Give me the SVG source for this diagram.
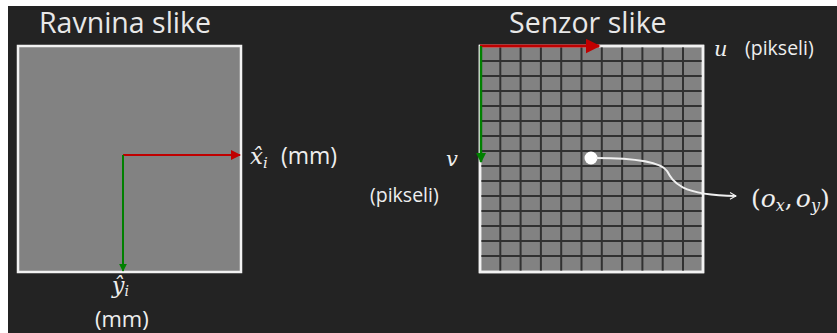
<svg xmlns="http://www.w3.org/2000/svg" width="837" height="333" viewBox="0 0 837 333">
<defs>
<style>
.title{font-family:"Open Sans","Noto Sans",sans-serif;font-size:28.5px;fill:#e8e8e8}
.lbl{font-family:"Open Sans","Noto Sans",sans-serif;fill:#eeeeee}
.math{font-family:"DejaVu Serif","Liberation Serif",serif;font-style:italic;fill:#eeeeee}
.panel{fill:#828282;stroke:#f2f2f2;stroke-width:2.5}
.grid{stroke:#1e1e1e;stroke-width:2;opacity:0.8}
</style>
<marker id="ar" viewBox="0 0 10 10" refX="9" refY="5" markerWidth="5" markerHeight="5" orient="auto"><path d="M0,0 L10,5 L0,10 z" fill="#c00000"/></marker>
<marker id="ag" viewBox="0 0 10 10" refX="9" refY="5" markerWidth="4" markerHeight="4" orient="auto"><path d="M0,0 L10,5 L0,10 z" fill="#008000"/></marker>
<marker id="aw" viewBox="0 0 12 12" refX="10" refY="6" markerWidth="8" markerHeight="8" orient="auto" markerUnits="userSpaceOnUse"><path d="M1,1 L10,6 L1,11" fill="none" stroke="#f0f0f0" stroke-width="1.6"/></marker>
</defs>
<rect width="837" height="333" fill="#ffffff"/>
<rect x="8" y="6" width="829" height="327" fill="#232323"/>

<g id="ravnina">
<text class="title" x="39" y="33">Ravnina slike</text>
<rect class="panel" x="18" y="46" width="223" height="226"/>
</g>

<g id="senzor">
<text class="title" x="509" y="33">Senzor slike</text>
<rect class="panel" x="480" y="46" width="223" height="226"/>
<g class="grid">
<path d="M500.3,47V271M520.6,47V271M540.9,47V271M561.2,47V271M581.5,47V271M601.8,47V271M622.1,47V271M642.4,47V271M662.7,47V271M683,47V271"/>
<path d="M481,61H702M481,76H702M481,91H702M481,106H702M481,121H702M481,136H702M481,151H702M481,166H702M481,181H702M481,196H702M481,211H702M481,226H702M481,241H702M481,256H702"/>
</g>
<rect x="480" y="46" width="223" height="226" fill="none" stroke="#f2f2f2" stroke-width="2.5"/>
<circle id="origin" cx="591" cy="158" r="6.5" fill="#ffffff"/>
</g>

<g id="connectors">
<line x1="123" y1="155" x2="240" y2="155" stroke="#c00000" stroke-width="2" marker-end="url(#ar)"/>
<line x1="123" y1="155" x2="123" y2="271" stroke="#008000" stroke-width="2" marker-end="url(#ag)"/>
<line x1="480" y1="46" x2="599" y2="46" stroke="#c00000" stroke-width="3" marker-end="url(#ar)"/>
<line x1="481" y1="46" x2="481" y2="162" stroke="#008000" stroke-width="2.5" marker-end="url(#ag)"/>
<path d="M596,158 C630,158 660,161 667,171 C673,182 680,195 736,196" fill="none" stroke="#f0f0f0" stroke-width="2" marker-end="url(#aw)"/>
</g>

<g id="labels">
<text class="math" x="250" y="164" font-size="23">x̂<tspan font-size="15" dy="4">i</tspan></text>
<text class="lbl" x="281" y="164" font-size="23">(mm)</text>
<text class="math" x="112" y="293" font-size="22">ŷ<tspan font-size="14" dy="3">i</tspan></text>
<text class="lbl" x="95" y="327" font-size="22">(mm)</text>
<text class="math" x="714" y="56" font-size="21">u</text>
<text class="lbl" x="745" y="55" font-size="19.5">(pikseli)</text>
<text class="math" x="446" y="166" font-size="21">v</text>
<text class="lbl" x="370" y="202" font-size="19.5">(pikseli)</text>
<text class="math" x="751" y="207" font-size="25"><tspan font-style="normal">(</tspan>o<tspan font-size="16" dy="4">x</tspan><tspan dy="-4" font-style="normal">,</tspan><tspan dx="3">o</tspan><tspan font-size="16" dy="4">y</tspan><tspan dy="-4" font-style="normal">)</tspan></text>
</g>
</svg>
